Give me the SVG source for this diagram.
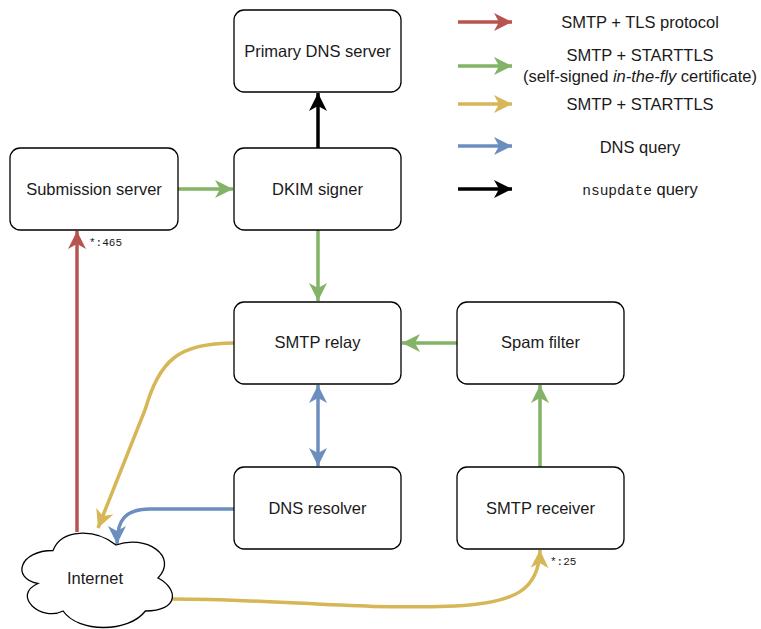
<svg xmlns="http://www.w3.org/2000/svg" width="761" height="629" viewBox="0 0 761 629">
<defs>
<style>
.box{fill:#fff;stroke:#000;stroke-width:1.3}
.t{font-family:"Liberation Sans",Arial,sans-serif;font-size:16.5px;fill:#1a1a1a;text-anchor:middle}
.m{font-family:"Liberation Mono","DejaVu Sans Mono",monospace;fill:#1a1a1a}
.e{fill:none;stroke-width:3.5}
.red{stroke:#b85450}.green{stroke:#82b366}.yellow{stroke:#d6b656}.blue{stroke:#6c8ebf}.black{stroke:#000}
</style>
<marker id="aR" markerUnits="userSpaceOnUse" markerWidth="20" markerHeight="20" refX="18" refY="9" orient="auto"><path d="M0,0 L18,9 L0,18 L5,9 z" fill="#b85450"/></marker>
<marker id="aG" markerUnits="userSpaceOnUse" markerWidth="20" markerHeight="20" refX="18" refY="9" orient="auto"><path d="M0,0 L18,9 L0,18 L5,9 z" fill="#82b366"/></marker>
<marker id="aY" markerUnits="userSpaceOnUse" markerWidth="20" markerHeight="20" refX="18" refY="9" orient="auto"><path d="M0,0 L18,9 L0,18 L5,9 z" fill="#d6b656"/></marker>
<marker id="aB" markerUnits="userSpaceOnUse" markerWidth="20" markerHeight="20" refX="18" refY="9" orient="auto"><path d="M0,0 L18,9 L0,18 L5,9 z" fill="#6c8ebf"/></marker>
<marker id="aBs" markerUnits="userSpaceOnUse" markerWidth="20" markerHeight="20" refX="18" refY="9" orient="auto-start-reverse"><path d="M0,0 L18,9 L0,18 L5,9 z" fill="#6c8ebf"/></marker>
<marker id="aK" markerUnits="userSpaceOnUse" markerWidth="20" markerHeight="20" refX="18" refY="9" orient="auto"><path d="M0,0 L18,9 L0,18 L5,9 z" fill="#000"/></marker>
</defs>
<rect width="761" height="629" fill="#fff"/>

<g id="connectors">
<path class="e black" d="M318,148 L318,93" marker-end="url(#aK)"/>
<path class="e green" d="M178,189 L233,189" marker-end="url(#aG)"/>
<path class="e green" d="M318,230 L318,301" marker-end="url(#aG)"/>
<path class="e green" d="M457,343 L402,343" marker-end="url(#aG)"/>
<path class="e green" d="M540,467 L540,385" marker-end="url(#aG)"/>
<path class="e blue" d="M318,385 L318,466" marker-start="url(#aBs)" marker-end="url(#aB)"/>
<path class="e blue" d="M234,509 L150,509 C126,509 117,519 117,544" marker-end="url(#aB)"/>
<path class="e yellow" d="M234,343 C178,343 160,360 145,410 L98,528" marker-end="url(#aY)"/>
<path class="e red" d="M77,532 L77,231" marker-end="url(#aR)"/>
<path class="e yellow" d="M172,599 C280,599 350,610 455,606 C515,603 539,590 540,550" marker-end="url(#aY)"/>
<text class="m" x="89" y="246" font-size="11">*:465</text>
<text class="m" x="550" y="565" font-size="11">*:25</text>
</g>

<g id="primary-dns">
<rect class="box" x="234" y="10" width="167" height="82" rx="10"/>
<text class="t" x="317.5" y="57">Primary DNS server</text>
</g>
<g id="submission-server">
<rect class="box" x="10" y="148" width="168" height="82" rx="10"/>
<text class="t" x="94" y="195">Submission server</text>
</g>
<g id="dkim-signer">
<rect class="box" x="234" y="148" width="167" height="82" rx="10"/>
<text class="t" x="317.5" y="195">DKIM signer</text>
</g>
<g id="smtp-relay">
<rect class="box" x="234" y="302" width="167" height="82" rx="10"/>
<text class="t" x="317.5" y="348">SMTP relay</text>
</g>
<g id="spam-filter">
<rect class="box" x="457" y="302" width="167" height="82" rx="10"/>
<text class="t" x="540.5" y="348">Spam filter</text>
</g>
<g id="dns-resolver">
<rect class="box" x="234" y="467" width="167" height="82" rx="10"/>
<text class="t" x="317.5" y="514">DNS resolver</text>
</g>
<g id="smtp-receiver">
<rect class="box" x="457" y="467" width="167" height="82" rx="10"/>
<text class="t" x="540.5" y="514">SMTP receiver</text>
</g>
<g id="internet">
<path class="box" d="M53,550.5 C19.4,550.5 11,578 37.9,583.5 C11,595.6 41.2,622 63.1,611 C78.2,633 128.6,633 145.4,611 C179,611 179,589 158,578 C179,556 145.4,534 116,545 C95,528.5 61.4,528.5 53,550.5 Z"/>
<text class="t" x="95" y="584">Internet</text>
</g>

<g id="legend">
<path class="e red" d="M458,22 L512,22" marker-end="url(#aR)"/>
<path class="e green" d="M458,66 L512,66" marker-end="url(#aG)"/>
<path class="e yellow" d="M458,104 L512,104" marker-end="url(#aY)"/>
<path class="e blue" d="M458,146 L512,146" marker-end="url(#aB)"/>
<path class="e black" d="M458,189 L512,189" marker-end="url(#aK)"/>
<text class="t" x="640" y="28">SMTP + TLS protocol</text>
<text class="t" x="640" y="61">SMTP + STARTTLS</text>
<text class="t" x="640" y="82">(self-signed <tspan font-style="italic">in-the-fly</tspan> certificate)</text>
<text class="t" x="640" y="110">SMTP + STARTTLS</text>
<text class="t" x="640" y="153">DNS query</text>
<text class="t" x="640" y="195"><tspan class="m" font-size="14.5">nsupdate</tspan> query</text>
</g>
</svg>
